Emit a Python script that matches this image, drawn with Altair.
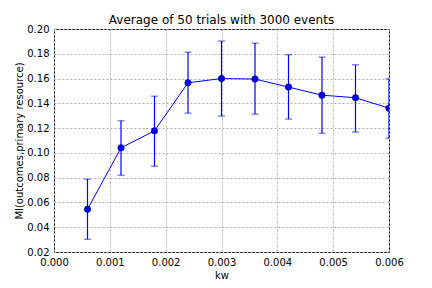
import altair as alt
import pandas as pd

kw = [0.0006, 0.0012, 0.0018, 0.0024, 0.0030, 0.0036, 0.0042, 0.0048, 0.0054, 0.0060]
mi = [0.0545, 0.1041, 0.1178, 0.1566, 0.1600, 0.1596, 0.1531, 0.1466, 0.1445, 0.1361]
lo = [0.0303, 0.0820, 0.0893, 0.1321, 0.1297, 0.1313, 0.1273, 0.1159, 0.1168, 0.1119]
hi = [0.0788, 0.1259, 0.1458, 0.1813, 0.1903, 0.1886, 0.1792, 0.1773, 0.1711, 0.1598]
x_ticks = [0, 0.001, 0.002, 0.003, 0.004, 0.005, 0.006]
y_ticks = [0.02, 0.04, 0.06, 0.08, 0.10, 0.12, 0.14, 0.16, 0.18, 0.20]

df = pd.DataFrame({"kw": kw, "mi": mi, "lo": lo, "hi": hi})

FONT = "DejaVu Sans"
BLUE = "#0000ff"
YTITLE = "MI(outcomes,primary resource)"

xscale = alt.Scale(domain=[0, 0.006], nice=False, zero=False, padding=0)
yscale = alt.Scale(domain=[0.02, 0.20], nice=False, zero=False, padding=0)
xaxis = alt.Axis(values=x_ticks, format=".3f", labelOverlap=False, labelFlush=False)
yaxis = alt.Axis(values=y_ticks, format=".2f", labelOverlap=False, labelFlush=False)

xs = alt.X("kw:Q", title="kw", scale=xscale, axis=xaxis)
ys = alt.Y("mi:Q", title=YTITLE, scale=yscale, axis=yaxis)
ylo = alt.Y("lo:Q", title=YTITLE, scale=yscale, axis=yaxis)
yhi = alt.Y("hi:Q", title=YTITLE, scale=yscale, axis=yaxis)

base = alt.Chart(df)

line = base.mark_line(color=BLUE, strokeWidth=1, clip=True).encode(x=xs, y=ys)
rules = base.mark_rule(color=BLUE, strokeWidth=1.2, clip=True).encode(
    x=xs, y=ylo, y2="hi:Q")
cap_lo = base.mark_tick(color=BLUE, orient="horizontal", size=7, thickness=1, clip=True).encode(
    x=xs, y=ylo)
cap_hi = base.mark_tick(color=BLUE, orient="horizontal", size=7, thickness=1, clip=True).encode(
    x=xs, y=yhi)
pts = base.mark_point(filled=True, fill=BLUE, stroke="#000033", strokeWidth=0.5,
                      opacity=1, size=42, shape="circle", clip=True).encode(x=xs, y=ys)

chart = alt.layer(line, rules, cap_lo, cap_hi, pts).properties(
    width=335, height=223,
    title=alt.TitleParams("Average of 50 trials with 3000 events", fontSize=12,
                          fontWeight="normal", font=FONT, color="black", offset=6, dy=9),
    autosize=alt.AutoSizeParams(type="none"),
    padding={"left": 46, "top": 21, "right": 35, "bottom": 28},
).configure_view(stroke="black", strokeWidth=1).configure_axis(
    domain=False, ticks=False, labelPadding=5, labelOverlap=False, labelFlush=False,
    labelFont=FONT, labelFontSize=10, labelColor="black",
    titleFont=FONT, titleFontSize=10, titleFontWeight="normal", titleColor="black",
    gridColor="#b0b0b0", gridDash=[2, 2], gridWidth=1, gridOpacity=1,
).configure_axisY(titlePadding=2).configure_axisX(titlePadding=3)

chart.save("out.html", embed_options={"renderer": "svg", "actions": False})
